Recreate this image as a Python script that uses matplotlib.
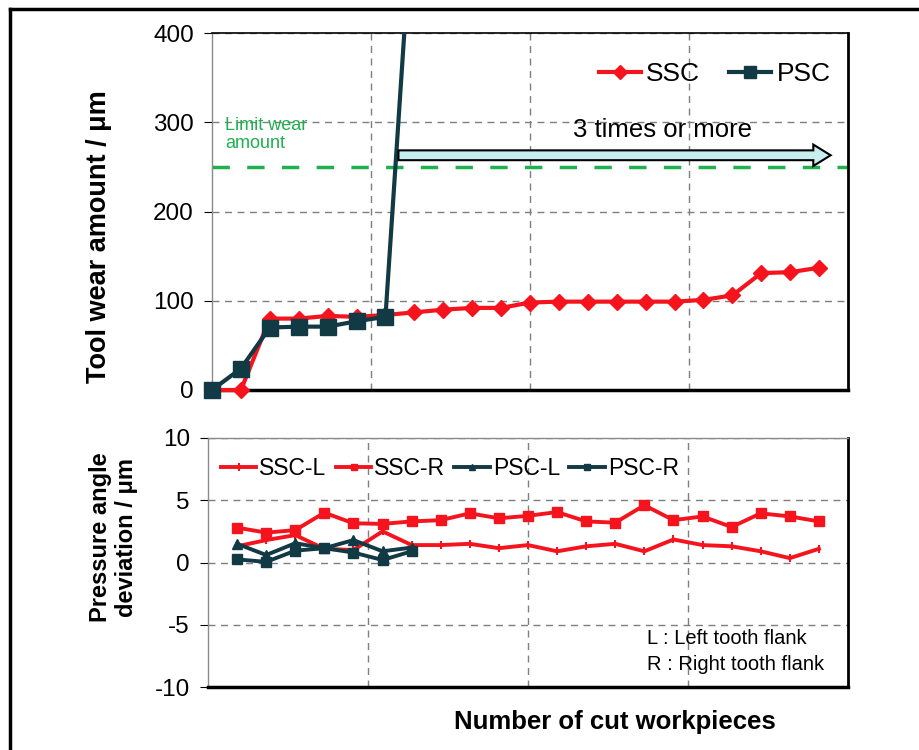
import matplotlib as mpl
mpl.use('Agg')
import matplotlib.pyplot as plt
import matplotlib.patches as mpatches
from matplotlib.lines import Line2D
import numpy as np

plt.rcParams['font.family'] = ['Liberation Sans', 'DejaVu Sans']
plt.rcParams['axes.unicode_minus'] = False

# tool wear (top panel), one value per cut workpiece step
wear_ssc = [0, 0, 80, 80, 83, 82, 84, 87, 90, 92, 92, 98, 99, 99, 99, 99, 99, 101,
            106, 131, 132, 137]
wear_psc = [0, 24, 70, 71, 71, 77, 82, 570]
limit_wear = 250

# pressure angle deviation (bottom panel), starts at second step
dev_ssc_l = [1.3, 1.8, 2.2, 1.1, 1.0, 2.5, 1.4, 1.4, 1.5, 1.15, 1.4, 0.9, 1.3, 1.5,
             0.9, 1.85, 1.4, 1.3, 0.9, 0.35, 1.1]
dev_ssc_r = [2.8, 2.4, 2.6, 4.0, 3.15, 3.1, 3.3, 3.4, 3.95, 3.55, 3.75, 4.05, 3.3,
             3.2, 4.6, 3.4, 3.7, 2.85, 3.95, 3.7, 3.3]
dev_psc_l = [1.5, 0.6, 1.55, 1.15, 1.8, 0.9, 1.2]
dev_psc_r = [0.25, 0.05, 0.95, 1.15, 0.8, 0.2, 0.9]

red = '#f5141e'
dark = '#123a44'
green = '#1fb04f'
grid_c = '#7f7f7f'

fig = plt.figure(figsize=(9.19, 7.5), dpi=100)
ax1 = fig.add_axes([212/919, 1-390/750, 636/919, 357/750])
ax2 = fig.add_axes([208/919, 1-687/750, 640/919, 249/750])

# figure frame
fig.add_artist(Line2D([10/919, 10/919], [0, 1-9/750], color='k', lw=2.5))
fig.add_artist(Line2D([10/919, 1], [1-9/750, 1-9/750], color='k', lw=2.5))

x_top = np.arange(len(wear_ssc))
x_psc = np.arange(len(wear_psc))
x_bot = np.arange(1, len(dev_ssc_l) + 1)
x_pb = np.arange(1, len(dev_psc_l) + 1)

for ax in (ax1, ax2):
    ax.set_xlim(0, 22)
    ax.set_xticks([5.5, 11, 16.5])
    ax.tick_params(axis='x', bottom=False, labelbottom=False)
    ax.tick_params(axis='y', direction='out', length=6, labelsize=17.5, pad=7)
    ax.grid(True, color=grid_c, ls=(0, (5, 4)), lw=1)
    ax.set_axisbelow(True)
    ax.spines['left'].set_color('#8a8a8a')
    ax.spines['left'].set_linewidth(1)
    ax.spines['right'].set_linewidth(2)
    ax.spines['bottom'].set_linewidth(2.5)

# --- top panel
ax1.set_ylim(0, 400)
ax1.set_yticks([0, 100, 200, 300, 400])
ax1.spines['top'].set_linewidth(1.2)

ax1.axhline(limit_wear, color=green, lw=2.5, ls=(0, (5, 5)), zorder=2)
ax1.plot(x_top, wear_ssc, color=red, lw=3, marker='D', ms=8.5, clip_on=False, zorder=4)
ax1.plot(x_psc, wear_psc, color=dark, lw=3, zorder=5)
psc = np.array(wear_psc)
vis = psc <= 400
ax1.plot(x_psc[vis], psc[vis], ls='none', marker='s', ms=11, color=dark,
         clip_on=False, zorder=6)

ax1.text(0.45, 286, 'Limit wear\namount', color=green, fontsize=13,
         ha='left', va='center', linespacing=1.1)
arrow = mpatches.FancyArrow(6.45, 263, 14.95, 0, width=11, head_width=24,
                            head_length=0.6, length_includes_head=True,
                            fc='#c9eef0', ec='k', lw=1.5, zorder=6)
ax1.add_patch(arrow)
ax1.text(15.6, 291, '3 times or more', fontsize=18.5, ha='center', va='center')

h1 = [Line2D([], [], color=red, lw=3, marker='D', ms=7),
      Line2D([], [], color=dark, lw=3, marker='s', ms=9)]
ax1.legend(h1, ['SSC', 'PSC'], loc='upper right', ncol=2, frameon=False,
           fontsize=19, handlelength=1.6, handletextpad=0.2, columnspacing=1.1,
           bbox_to_anchor=(1.01, 0.985))
ax1.set_ylabel('Tool wear amount / μm', fontsize=19.5, fontweight='bold')
ax1.yaxis.set_label_coords(-0.157, 0.431)

# --- bottom panel
ax2.set_ylim(-10, 10)
ax2.set_yticks([-10, -5, 0, 5, 10])
ax2.spines['top'].set_color('#8a8a8a')
ax2.spines['top'].set_linewidth(1)

ax2.plot(x_bot, dev_ssc_l, color=red, lw=2.8, marker='|', ms=6, mew=1.5, zorder=4)
ax2.plot(x_bot, dev_ssc_r, color=red, lw=2.8, marker='s', ms=6.5, zorder=4)
ax2.plot(x_pb, dev_psc_l, color=dark, lw=2.8, marker='^', ms=6.5, zorder=5)
ax2.plot(x_pb, dev_psc_r, color=dark, lw=2.8, marker='s', ms=6.5, zorder=5)

h2 = [Line2D([], [], color=red, lw=2.8, marker='|', ms=6, mew=1.5),
      Line2D([], [], color=red, lw=2.8, marker='s', ms=5),
      Line2D([], [], color=dark, lw=2.8, marker='^', ms=4),
      Line2D([], [], color=dark, lw=2.8, marker='s', ms=4)]
ax2.legend(h2, ['SSC-L', 'SSC-R', 'PSC-L', 'PSC-R'], loc='upper left', ncol=4,
           frameon=False, fontsize=16.5, handlelength=1.55, handletextpad=0.13,
           columnspacing=0.4, bbox_to_anchor=(-0.005, 0.99), borderaxespad=0.3)

ax2.text(15.1, -6.1, 'L : Left tooth flank', fontsize=14.5, ha='left', va='center')
ax2.text(15.1, -8.2, 'R : Right tooth flank', fontsize=14.5, ha='left', va='center')
ax2.set_ylabel('Pressure angle\ndeviation / μm', fontsize=17, fontweight='bold',
               linespacing=1.15)
ax2.yaxis.set_label_coords(-0.11, 0.6)

fig.text(615/919, 1-722/750, 'Number of cut workpieces', fontsize=18.5,
         fontweight='bold', ha='center', va='center')

fig.savefig('out.png', dpi=100)
